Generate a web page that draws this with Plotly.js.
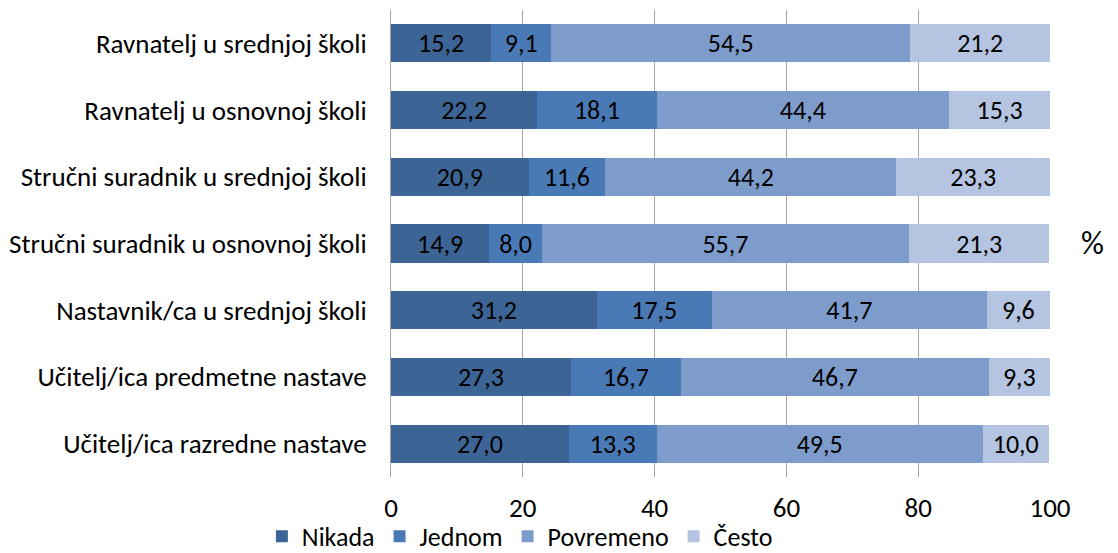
<!DOCTYPE html>
<html><head><meta charset="utf-8">
<script src="https://cdn.plot.ly/plotly-3.0.1.min.js"></script>
<style>html,body{margin:0;padding:0;background:#fff}#chart{width:1118px;height:553px}</style>
</head><body><div id="chart"></div>
<script>
const categories = [
  "Ravnatelj u srednjoj školi",
  "Ravnatelj u osnovnoj školi",
  "Stručni suradnik u srednjoj školi",
  "Stručni suradnik u osnovnoj školi",
  "Nastavnik/ca u srednjoj školi",
  "Učitelj/ica predmetne nastave",
  "Učitelj/ica razredne nastave"
];
const nikada    = [15.2, 22.2, 20.9, 14.9, 31.2, 27.3, 27.0];
const jednom    = [9.1, 18.1, 11.6, 8.0, 17.5, 16.7, 13.3];
const povremeno = [54.5, 44.4, 44.2, 55.7, 41.7, 46.7, 49.5];
const cesto     = [21.2, 15.3, 23.3, 21.3, 9.6, 9.3, 10.0];
const seriesNames = ["Nikada", "Jednom", "Povremeno", "Često"];
const xTicks = [0, 20, 40, 60, 80, 100];

const colors = ["#3C6596", "#4A7AB6", "#7E9CCB", "#B5C4E0"];
const FONT = "Carlito, 'Liberation Sans Narrow', 'Noto Sans', sans-serif";
const fmt = v => v.toFixed(1).replace('.', ',');

const data = [nikada, jednom, povremeno, cesto].map((vals, i) => ({
  type: 'bar', orientation: 'h', name: seriesNames[i],
  x: vals, y: categories,
  text: vals.map(fmt), textposition: 'inside', insidetextanchor: 'middle',
  constraintext: 'none',
  textfont: {family: FONT, size: 26, color: '#000'},
  marker: {color: colors[i], line: {width: 0}},
  hoverinfo: 'skip'
}));

const layout = {
  width: 1118, height: 553,
  margin: {l: 391, r: 68, t: 10, b: 76, autoexpand: false},
  barmode: 'stack', bargap: 0.43,
  paper_bgcolor: '#fff', plot_bgcolor: '#fff',
  font: {family: FONT, size: 27, color: '#000'},
  showlegend: true,
  legend: {orientation: 'h', xref: 'container', yref: 'container',
           x: 0.465, xanchor: 'center', y: 0.03, yanchor: 'middle',
           bgcolor: 'rgba(0,0,0,0)',
           font: {family: FONT, size: 26, color: '#000'}, traceorder: 'normal', itemwidth: 20},
  xaxis: {range: [0, 100], tickvals: xTicks, ticktext: xTicks.map(String),
          showgrid: true, gridcolor: '#A6A6A6', gridwidth: 1, zeroline: false,
          showline: false, ticks: '', ticklabelstandoff: 12,
          tickfont: {family: FONT, size: 27, color: '#000'}, fixedrange: true},
  yaxis: {type: 'category', autorange: 'reversed', showgrid: false, zeroline: false,
          showline: true, linecolor: '#A6A6A6', linewidth: 1, ticks: '',
          ticklabelstandoff: 18,
          tickfont: {family: FONT, size: 27, color: '#000'}, fixedrange: true},
  annotations: [{text: '%', xref: 'paper', yref: 'paper', x: 1.065, y: 0.5,
                 showarrow: false, xanchor: 'center', yanchor: 'middle',
                 font: {family: FONT, size: 32, color: '#000'}}]
};
Plotly.newPlot('chart', data, layout, {staticPlot: true, displayModeBar: false});
</script></body></html>
